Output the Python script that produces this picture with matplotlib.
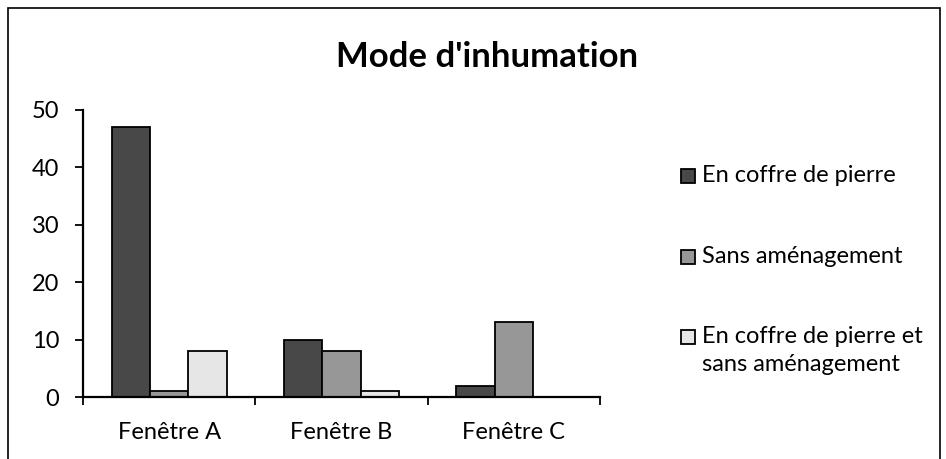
import matplotlib
matplotlib.use("Agg")
import matplotlib.pyplot as plt
from matplotlib.patches import Rectangle
import numpy as np

plt.rcParams['font.family'] = ['Lato', 'DejaVu Sans']

categories = ["Fenêtre A", "Fenêtre B", "Fenêtre C"]
series_names = ["En coffre de pierre", "Sans aménagement",
                "En coffre de pierre et\nsans aménagement"]
coffre = [47, 10, 2]
sans = [1, 8, 13]
mixte = [8, 1, 0]
yticks = [0, 10, 20, 30, 40, 50]

colors = ["#484848", "#979797", "#e6e6e6"]

W, H = 946, 459
fig = plt.figure(figsize=(W / 100, H / 100), dpi=100)
ax = fig.add_axes([83 / W, 1 - 397 / H, (600 - 83) / W, (397 - 110) / H])

# outer frame (cropped at bottom)
fig.patches.append(Rectangle((8 / W, -0.1), (940 - 8) / W, 1.1 - 8 / H,
                             transform=fig.transFigure, fill=False,
                             edgecolor="black", linewidth=1.2))

x = np.arange(len(categories))
w = 0.222
for i, (vals, c) in enumerate(zip([coffre, sans, mixte], colors)):
    ax.bar(x + (i - 1) * w, vals, width=w, color=c, edgecolor="black",
           linewidth=1.3, zorder=2)

ax.set_xlim(-0.5, 2.5)
ax.set_ylim(0, 50)
ax.set_yticks(yticks)
ax.set_xticks(x)
ax.set_xticklabels(categories)
ax.set_xticks([-0.5, 0.5, 1.5, 2.5], minor=True)
ax.tick_params(axis="x", which="major", length=0, pad=18, labelsize=17)
ax.tick_params(axis="x", which="minor", length=6, width=1.3, direction="out")
ax.tick_params(axis="y", length=6, width=1.3, direction="out", pad=11, labelsize=17)
for s in ["top", "right"]:
    ax.spines[s].set_visible(False)
for s in ["left", "bottom"]:
    ax.spines[s].set_linewidth(1.6)

fig.text(487 / W, 1 - 57 / H, "Mode d'inhumation", ha="center", va="center",
         fontsize=25, fontweight="bold")

# legend drawn manually to match layout (marker aligned with first line)
leg_y = [176, 257, 337]
for name, c, yc in zip(series_names, colors, leg_y):
    fig.patches.append(Rectangle((681 / W, 1 - (yc + 7) / H), 14 / W, 14 / H,
                                 transform=fig.transFigure, facecolor=c,
                                 edgecolor="black", linewidth=1.3))
    fig.text(702 / W, 1 - (yc - 11) / H, name, ha="left", va="top",
             fontsize=17, linespacing=1.4)

fig.savefig("out.png", dpi=100)
